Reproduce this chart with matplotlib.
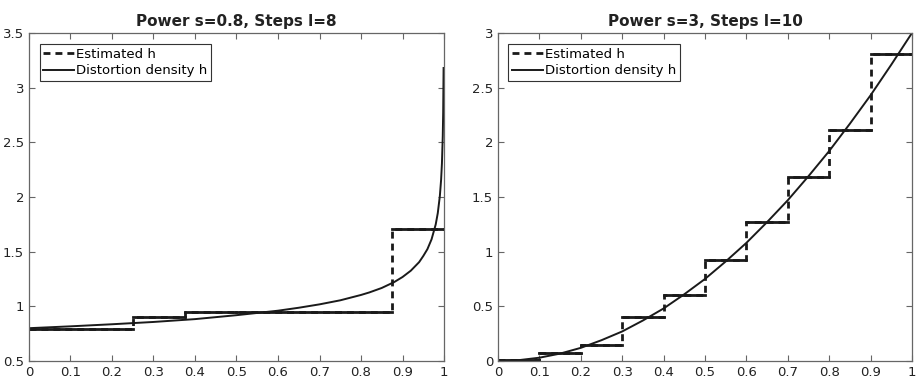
import matplotlib
matplotlib.use("Agg")
import matplotlib.pyplot as plt
import numpy as np

# left panel: power s=0.8, l=8 steps
left_u = [0, 0.1, 0.2, 0.3, 0.4, 0.5, 0.6, 0.65, 0.7, 0.75, 0.8, 0.82, 0.85, 0.86, 0.88,
          0.9, 0.92, 0.94, 0.95, 0.96, 0.97, 0.98, 0.985, 0.99, 0.993, 0.995, 0.997,
          0.998, 0.999]
left_h = [0.80, 0.817, 0.836, 0.857, 0.883, 0.919, 0.96, 0.987, 1.018, 1.055, 1.104,
          1.127, 1.168, 1.186, 1.222, 1.268, 1.326, 1.404, 1.46, 1.523, 1.613, 1.749,
          1.853, 2.01, 2.158, 2.308, 2.557, 2.773, 3.18]
left_steps = [0.79, 0.79, 0.90, 0.95, 0.95, 0.95, 0.95, 1.71]

# right panel: power s=3, l=10 steps
right_u = [0, 0.05, 0.1, 0.15, 0.2, 0.25, 0.3, 0.35, 0.4, 0.45, 0.5, 0.55, 0.6,
           0.65, 0.7, 0.75, 0.8, 0.85, 0.9, 0.95, 1.0]
right_h = [0, 0.0075, 0.03, 0.0675, 0.12, 0.19, 0.27, 0.37, 0.48, 0.61, 0.75, 0.91,
           1.08, 1.27, 1.47, 1.69, 1.92, 2.17, 2.43, 2.71, 3.0]
right_steps = [0.01, 0.074, 0.147, 0.405, 0.60, 0.92, 1.27, 1.68, 2.11, 2.81]

panels = [
    ("Power s=0.8, Steps l=8", left_u, left_h, left_steps, (0.5, 3.5),
     [0.5, 1, 1.5, 2, 2.5, 3, 3.5], [0.0316, 0.055, 0.4526, 0.8586]),
    ("Power s=3, Steps l=10", right_u, right_h, right_steps, (0, 3),
     [0, 0.5, 1, 1.5, 2, 2.5, 3], [0.543, 0.055, 0.4515, 0.8586]),
]

fig = plt.figure(figsize=(9.17, 3.82), dpi=100)
axcol = "#666666"
linecol = "#1a1a1a"

for title, u, h, steps, ylim, yticks, rect in panels:
    ax = fig.add_axes(rect)
    n = len(steps)
    edges = np.linspace(0, 1, n + 1)
    xs, ys = [], []
    for i in range(n):
        xs += [edges[i], edges[i + 1]]
        ys += [steps[i], steps[i]]
    ax.plot(xs, ys, "--", color=linecol, lw=2, dashes=(2.5, 1.8), label="Estimated h")
    # horizontal parts look solid in the original
    for i in range(n):
        ax.plot([edges[i], edges[i + 1]], [steps[i], steps[i]], "-", color=linecol, lw=2)
    ax.plot(u, h, "-", color=linecol, lw=1.4, label="Distortion density h")

    ax.set_xlim(0, 1)
    ax.set_ylim(*ylim)
    ax.set_xticks(np.round(np.arange(0, 1.01, 0.1), 1))
    ax.set_xticklabels(["0", "0.1", "0.2", "0.3", "0.4", "0.5", "0.6", "0.7", "0.8", "0.9", "1"])
    ax.set_yticks(yticks)
    ax.set_yticklabels([f"{t:g}" for t in yticks])
    ax.tick_params(direction="in", top=True, right=True, length=4, width=0.8,
                   colors=axcol, labelcolor="#222222", labelsize=9.5)
    for sp in ax.spines.values():
        sp.set_color(axcol)
        sp.set_linewidth(0.9)
    ax.set_title(title, fontsize=11, fontweight="bold", color="#222222", pad=5)
    leg = ax.legend(loc="upper left", fontsize=9.5, fancybox=False, framealpha=1,
                    edgecolor="#333333", handlelength=2.35, handletextpad=0.1,
                    borderpad=0.3, labelspacing=0.3, borderaxespad=0.8)
    leg.get_frame().set_linewidth(0.8)

fig.savefig("out.png", dpi=100)
